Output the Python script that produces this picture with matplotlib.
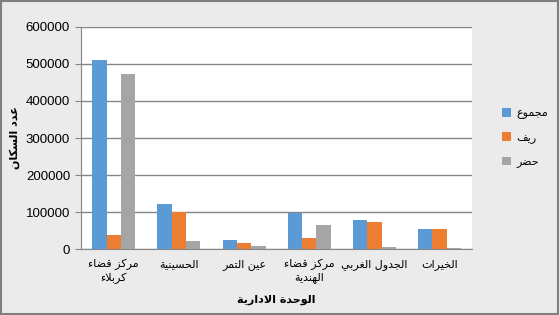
import matplotlib
matplotlib.use('Agg')
import numpy as np
import matplotlib.pyplot as plt
from matplotlib.patches import Rectangle

# Arabic presentation forms: letter -> (isolated codepoint, number of forms)
FORMS = {
    'ء': (0xFE80, 1), 'ا': (0xFE8D, 2), 'ب': (0xFE8F, 4), 'ة': (0xFE93, 2),
    'ت': (0xFE95, 4), 'ث': (0xFE99, 4), 'ج': (0xFE9D, 4), 'ح': (0xFEA1, 4),
    'خ': (0xFEA5, 4), 'د': (0xFEA9, 2), 'ذ': (0xFEAB, 2), 'ر': (0xFEAD, 2),
    'ز': (0xFEAF, 2), 'س': (0xFEB1, 4), 'ش': (0xFEB5, 4), 'ص': (0xFEB9, 4),
    'ض': (0xFEBD, 4), 'ط': (0xFEC1, 4), 'ظ': (0xFEC5, 4), 'ع': (0xFEC9, 4),
    'غ': (0xFECD, 4), 'ف': (0xFED1, 4), 'ق': (0xFED5, 4), 'ك': (0xFED9, 4),
    'ل': (0xFEDD, 4), 'م': (0xFEE1, 4), 'ن': (0xFEE5, 4), 'ه': (0xFEE9, 4),
    'و': (0xFEED, 2), 'ى': (0xFEEF, 2), 'ي': (0xFEF1, 4),
}


def shape_line(text):
    # merge lam-alef first
    chars = []
    i = 0
    while i < len(text):
        if text[i] == 'ل' and i + 1 < len(text) and text[i + 1] == 'ا':
            chars.append('LA')
            i += 2
        else:
            chars.append(text[i])
            i += 1

    def nforms(c):
        if c == 'LA':
            return 2
        return FORMS.get(c, (0, 0))[1]

    out = []
    for k, c in enumerate(chars):
        prev = chars[k - 1] if k > 0 else None
        nxt = chars[k + 1] if k + 1 < len(chars) else None
        join_prev = prev is not None and nforms(prev) == 4 and nforms(c) >= 2
        join_next = nxt is not None and nforms(c) == 4 and nforms(nxt) >= 2
        if c == 'LA':
            out.append(chr(0xFEFC if join_prev else 0xFEFB))
            continue
        if c not in FORMS:
            out.append(c)
            continue
        base, n = FORMS[c]
        if n == 1:
            out.append(chr(base))
        elif join_prev and join_next:
            out.append(chr(base + 3))
        elif join_next:
            out.append(chr(base + 2))
        elif join_prev:
            out.append(chr(base + 1))
        else:
            out.append(chr(base))
    return ''.join(out)[::-1]


def ar(text):
    return '\n'.join(shape_line(line) for line in text.split('\n'))


categories = ['مركز قضاء\nكربلاء', 'الحسينية', 'عين التمر',
              'مركز قضاء\nالهندية', 'الجدول الغربي', 'الخيرات']
series_names = ['مجموع', 'ريف', 'حضر']
total = [511000, 122000, 24000, 96000, 78000, 54000]
rural = [38000, 100000, 16000, 30500, 74000, 54000]
urban = [473000, 22000, 8000, 65000, 5000, 3000]
yticks = [0, 100000, 200000, 300000, 400000, 500000, 600000]
colors = ['#5b9bd5', '#ed7d31', '#a5a5a5']

AR_FONT = 'DejaVu Sans'
NUM_FONT = ['Liberation Sans', 'DejaVu Sans']

fig = plt.figure(figsize=(5.6, 3.15), dpi=100, facecolor='#ebebeb')
ax = fig.add_axes([0.145, 0.2095, 0.698, 0.7048])
ax.set_facecolor('white')

x = np.arange(len(categories))
w = 0.22
for j, (vals, name) in enumerate(zip([total, rural, urban], series_names)):
    ax.bar(x + (j - 1) * w, vals, w, color=colors[j], label=ar(name), zorder=3)

ax.set_xlim(-0.5, len(categories) - 0.5)
ax.set_ylim(0, 600000)
ax.set_yticks(yticks)
ax.set_yticklabels([str(v) for v in yticks], family=NUM_FONT, fontsize=9.5)
ax.set_xticks(x)
ax.set_xticklabels([ar(c) for c in categories], family=AR_FONT, fontsize=8,
                   linespacing=1.3)
ax.tick_params(axis='x', length=0, pad=7)
ax.tick_params(axis='y', length=4, color='#868686', pad=4)
ax.grid(axis='y', color='#868686', linewidth=1, zorder=0)
for s in ['top', 'right']:
    ax.spines[s].set_visible(False)
ax.spines['left'].set_color('#868686')
ax.spines['bottom'].set_color('#868686')

ax.set_ylabel(ar('عدد السكان'), family=AR_FONT, fontsize=8, fontweight='bold',
              labelpad=4)
ax.set_xlabel(ar('الوحدة الادارية'), family=AR_FONT, fontsize=8,
              fontweight='bold', labelpad=8)

leg = ax.legend(loc='center left', bbox_to_anchor=(1.05, 0.5), frameon=False,
                prop={'family': AR_FONT, 'size': 8}, handlelength=0.8,
                handleheight=0.8, labelspacing=1.2, handletextpad=0.5)

fig.add_artist(Rectangle((0.002, 0.003), 0.995, 0.994, transform=fig.transFigure,
                         fill=False, edgecolor='#7f7f7f', linewidth=1.5))

fig.savefig('out.png', dpi=100, facecolor=fig.get_facecolor())
